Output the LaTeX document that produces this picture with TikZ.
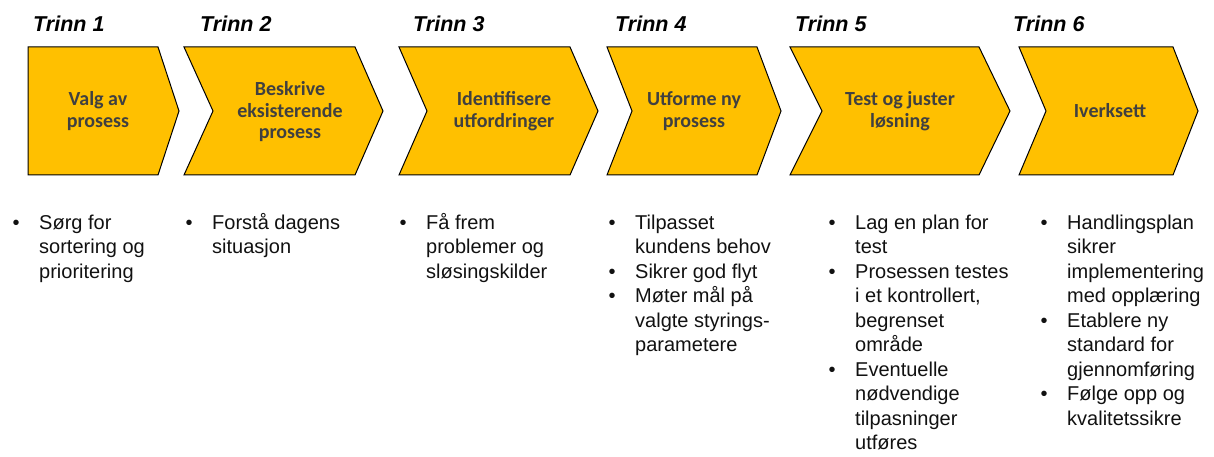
\documentclass[tikz,border=0pt]{standalone}
\usepackage{fontspec}
\setmainfont{Liberation Sans}
\newfontfamily\calib{Carlito}
\definecolor{chevfill}{HTML}{FFC000}
\definecolor{chevtext}{HTML}{404040}
\definecolor{bodytext}{HTML}{111111}
\newcommand{\bul}{\llap{\textbullet\hspace{19.5pt}}}
\tikzset{
  chev/.style={fill=chevfill, draw=black, line width=1pt, line join=miter},
  steplabel/.style={font={\bfseries\itshape\fontsize{21.5}{24}\selectfont}, anchor=base west, inner sep=0pt},
  chevlabel/.style={font={\calib\bfseries\fontsize{20}{21.5}\selectfont}, text=chevtext, align=center, inner sep=0pt},
  bullets/.style={font={\fontsize{20}{24.5}\selectfont}, text=bodytext, align=left, anchor=base west, inner sep=0pt}
}
\begin{document}
\begin{tikzpicture}[x=1pt,y=-1pt]
\useasboundingbox (0,0) rectangle (1214,457);
% step titles
\node[steplabel] (t1) at (33,32) {Trinn 1};
\node[steplabel] (t2) at (200,32) {Trinn 2};
\node[steplabel] (t3) at (413,32) {Trinn 3};
\node[steplabel] (t4) at (615,32) {Trinn 4};
\node[steplabel] (t5) at (795,32) {Trinn 5};
\node[steplabel] (t6) at (1013,32) {Trinn 6};
% chevrons
\path[chev] (28,47) -- (158,47) -- (179,111) -- (158,175) -- (28,175) -- cycle;
\path[chev] (184,47) -- (355,47) -- (383,111) -- (355,175) -- (184,175) -- (213,111) -- cycle;
\path[chev] (399,47) -- (570,47) -- (598,111) -- (570,175) -- (399,175) -- (427,111) -- cycle;
\path[chev] (607,47) -- (757,47) -- (781,111) -- (757,175) -- (607,175) -- (632,111) -- cycle;
\path[chev] (790,47) -- (979,47) -- (1010,111) -- (979,175) -- (790,175) -- (822,111) -- cycle;
\path[chev] (1019,47) -- (1173,47) -- (1198,111) -- (1173,175) -- (1019,175) -- (1046,111) -- cycle;
% chevron labels
\node[chevlabel] (c1) at (98,111) {Valg av\\prosess};
\node[chevlabel] (c2) at (290,112) {Beskrive\\eksisterende\\prosess};
\node[chevlabel] (c3) at (504,111) {Identifisere\\utfordringer};
\node[chevlabel] (c4) at (694,111) {Utforme ny\\prosess};
\node[chevlabel] (c5) at (900,111) {Test og juster\\løsning};
\node[chevlabel] (c6) at (1110,111) {Iverksett};
% bullet lists (base anchor = baseline of last line; first baseline at y=229)
\node[bullets] (b1) at (39,278) {\bul Sørg for\\sortering og\\prioritering};
\node[bullets] (b2) at (212,253.5) {\bul Forstå dagens\\situasjon};
\node[bullets] (b3) at (426,278) {\bul Få frem\\problemer og\\sløsingskilder};
\node[bullets] (b4) at (635,351.5) {\bul Tilpasset\\kundens behov\\\bul Sikrer god flyt\\\bul Møter mål på\\valgte styrings-\\parametere};
\node[bullets] (b5) at (855,449.5) {\bul Lag en plan for\\test\\\bul Prosessen testes\\i et kontrollert,\\begrenset\\område\\\bul Eventuelle\\nødvendige\\tilpasninger\\utføres};
\node[bullets] (b6) at (1067,425) {\bul Handlingsplan\\sikrer\\implementering\\med opplæring\\\bul Etablere ny\\standard for\\gjennomføring\\\bul Følge opp og\\kvalitetssikre};
\end{tikzpicture}
\end{document}
